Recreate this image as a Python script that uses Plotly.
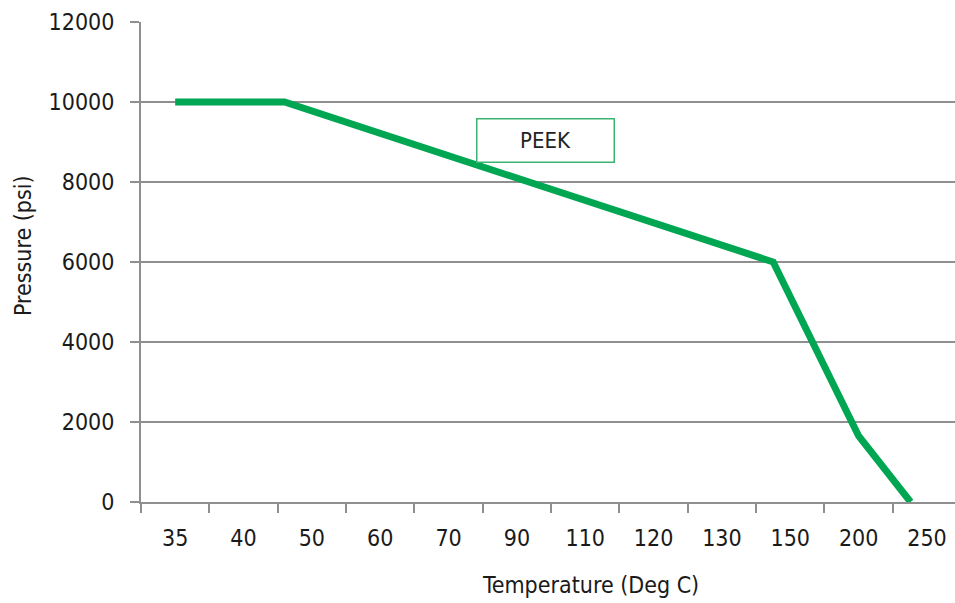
import numpy as np
import plotly.graph_objects as go

# Category labels along the temperature axis (evenly spaced, non-linear values)
temp_categories = [35, 40, 50, 60, 70, 90, 110, 120, 130, 150, 200, 250]

# PEEK pressure rating vs. temperature
peek_temp = [35, 46, 145, 200, 238]
peek_pressure = [10000, 10000, 6000, 1650, 0]

y_ticks = [0, 2000, 4000, 6000, 8000, 10000, 12000]

FONT = "Liberation Sans Narrow, Arial Narrow, DejaVu Sans Condensed, sans-serif"
GRID = "#8f8f8f"
TEXT = "#1a1a1a"
FS = 23

cat_pos = np.arange(len(temp_categories))


def temp_to_axis(t):
    """Place a temperature on the evenly spaced category scale."""
    return np.interp(t, temp_categories, cat_pos)


fig = go.Figure()
fig.add_trace(go.Scatter(
    x=temp_to_axis(peek_temp),
    y=peek_pressure,
    mode="lines",
    line=dict(color="#00a651", width=7),
    showlegend=False,
    hoverinfo="skip",
))

x_range = [-0.5, 11.41]

fig.update_layout(
    width=955,
    height=603,
    margin=dict(l=141, r=0, t=22, b=101),
    paper_bgcolor="white",
    plot_bgcolor="white",
    font=dict(family=FONT, size=FS, color=TEXT),
    xaxis=dict(
        range=x_range,
        tickvals=list(cat_pos),
        ticktext=[str(v) for v in temp_categories],
        ticks="",
        showgrid=False,
        zeroline=False,
        showline=True,
        linecolor=GRID,
        linewidth=2,
        ticklabelstandoff=14,
        minor=dict(
            tickvals=[p - 0.5 for p in cat_pos],
            ticks="outside",
            ticklen=9,
            tickwidth=2,
            tickcolor=GRID,
            showgrid=False,
        ),
        tickfont=dict(family=FONT, size=FS, color=TEXT),
    ),
    yaxis=dict(
        range=[0, 12000],
        tickvals=y_ticks,
        ticktext=[str(v) for v in y_ticks],
        ticks="outside",
        ticklen=9,
        tickwidth=2,
        tickcolor=GRID,
        showgrid=True,
        gridcolor=GRID,
        gridwidth=2,
        zeroline=False,
        showline=True,
        linecolor=GRID,
        linewidth=2,
        ticklabelstandoff=11,
        tickfont=dict(family=FONT, size=FS, color=TEXT),
    ),
    annotations=[
        dict(
            text="Temperature (Deg C)",
            xref="paper", yref="paper",
            x=(590 - 141) / 814, y=-(585 - 502) / 480,
            showarrow=False,
            xanchor="center", yanchor="middle",
            font=dict(family=FONT, size=FS, color=TEXT),
        ),
        dict(
            text="Pressure (psi)",
            xref="paper", yref="paper",
            x=-(141 - 23) / 814, y=(502 - 246) / 480,
            textangle=-90,
            showarrow=False,
            xanchor="center", yanchor="middle",
            font=dict(family=FONT, size=FS, color=TEXT),
        ),
        dict(
            text="PEEK",
            xref="paper", yref="paper",
            x=(545 - 141) / 814, y=(502 - 140) / 480,
            showarrow=False,
            xanchor="center", yanchor="middle",
            width=134, height=40,
            bordercolor="#3cb371",
            borderwidth=1.5,
            bgcolor="white",
            font=dict(family=FONT, size=22, color="#222222"),
        ),
    ],
)

fig.write_html("out.html")
